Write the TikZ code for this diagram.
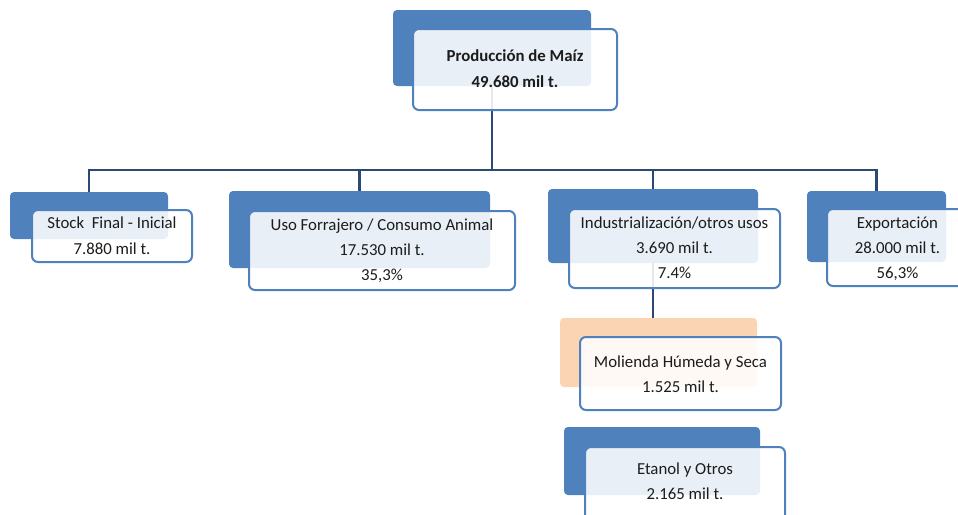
\documentclass[tikz,border=0pt]{standalone}
\usepackage{fontspec}
\setmainfont{Carlito}
\usetikzlibrary{backgrounds}
\definecolor{accent}{HTML}{4F81BD}
\definecolor{peach}{HTML}{FBD4B4}
\definecolor{navy}{HTML}{2A4A73}
\definecolor{ink}{HTML}{1C1C1C}

\begin{document}
\begin{tikzpicture}[x=1pt,y=-1pt,
  backbox/.style={fill=accent, rounded corners=4pt, inner sep=0pt, outer sep=0pt, anchor=north west},
  softbox/.style={backbox, fill=peach},
  frontbox/.style={draw=accent, line width=2pt, fill=white, fill opacity=0.88,
    rounded corners=6pt, inner sep=0pt, outer sep=0pt, anchor=north west},
  link/.style={draw=navy, line width=2.5pt},
  label/.style={text=ink, font=\fontsize{16.8}{25}\selectfont, align=center,
    anchor=base, inner sep=0pt},
]
\useasboundingbox (0,0) rectangle (958,514);
\clip (0,0) rectangle (958,514);

% top: production (labels are placed by the baseline of their last line)
\node[backbox, minimum width=198pt, minimum height=76pt] (topb) at (393,10) {};
\node[frontbox, minimum width=204pt, minimum height=81pt] (topf) at (413,29) {};
\node[label, font=\fontsize{16.8}{26}\selectfont\bfseries] (topt) at (topf.north |- 0,87)
  {Producción de Maíz\\49.680 mil t.};

% stock
\node[backbox, minimum width=158pt, minimum height=47pt] (stockb) at (10,192) {};
\node[frontbox, minimum width=160pt, minimum height=52pt] (stockf) at (32,210) {};
\node[label, font=\fontsize{16.8}{26}\selectfont] (stockt) at (stockf.north |- 0,254)
  {Stock\ \ Final - Inicial\\7.880 mil t.};

% feed use
\node[backbox, minimum width=261pt, minimum height=77pt] (usob) at (229,191) {};
\node[frontbox, minimum width=266pt, minimum height=79pt] (usof) at (249,211) {};
\node[label] (usot) at (usof.north |- 0,280)
  {Uso Forrajero / Consumo Animal\\17.530 mil t.\\35,3\%};

% industrial use
\node[backbox, minimum width=210pt, minimum height=74pt] (indb) at (548,189) {};
\node[frontbox, minimum width=211pt, minimum height=79pt] (indf) at (569,209) {};
\node[label] (indt) at (indf.north |- 0,278)
  {Industrialización/otros usos\\3.690 mil t.\\7.4\%};

% export
\node[backbox, minimum width=139pt, minimum height=71pt] (expb) at (807,191) {};
\node[frontbox, minimum width=141pt, minimum height=77pt] (expf) at (827,209) {};
\node[label] (expt) at (expf.north |- 0,278)
  {Exportación\\28.000 mil t.\\56,3\%};

% milling
\node[softbox, minimum width=197pt, minimum height=69pt] (molb) at (560,318) {};
\node[frontbox, minimum width=201pt, minimum height=73pt] (molf) at (580,337) {};
\node[label] (molt) at (molf.north |- 0,392)
  {Molienda Húmeda y Seca\\1.525 mil t.};

% ethanol
\node[backbox, minimum width=196pt, minimum height=68pt] (etab) at (564,427) {};
\node[frontbox, minimum width=200pt, minimum height=90pt] (etaf) at (585,447) {};
\node[label] (etat) at (etaf.north |- 0,499)
  {Etanol y Otros\\2.165 mil t.};

% connectors behind the boxes
\begin{scope}[on background layer]
  \coordinate (bus) at (0,170);
  \draw[link] (topb.south) -- (topb.south |- bus);
  \draw[link] (stockb.north) -- (stockb.north |- bus) -- (expb.north |- bus) -- (expb.north);
  \draw[link] (usob.north) -- (usob.north |- bus);
  \draw[link] (indb.north) -- (indb.north |- bus);
  \draw[link] (indb.south) -- ++(0,30) -- (molb.north -| indb.south);
\end{scope}
\end{tikzpicture}
\end{document}
